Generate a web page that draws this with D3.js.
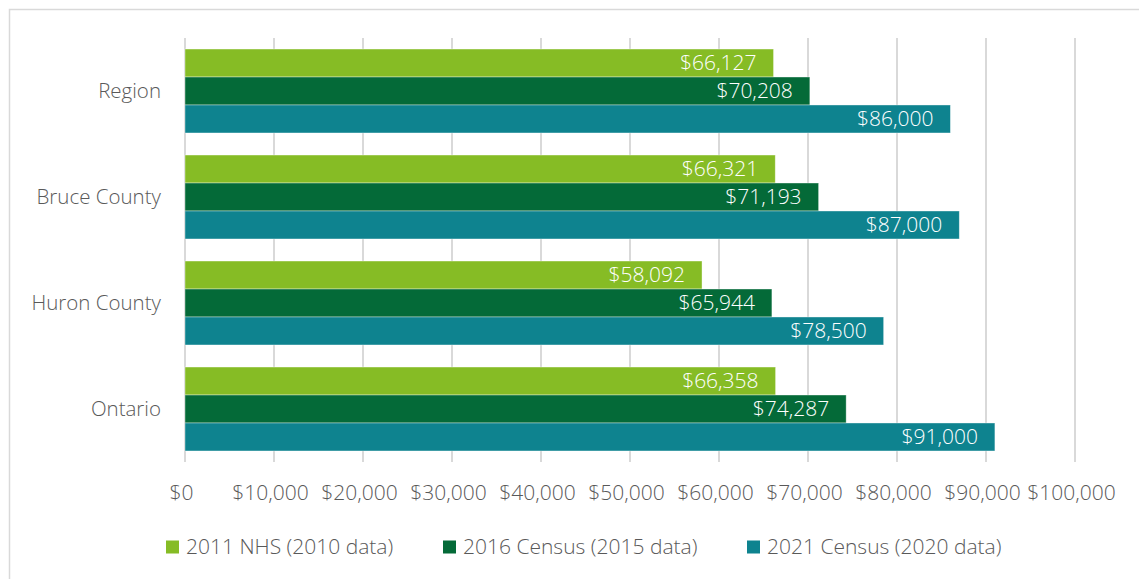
<!DOCTYPE html>
<html>
<head>
<meta charset="utf-8">
<script src="https://cdn.jsdelivr.net/npm/d3@7"></script>
<style>
  body { margin: 0; background: #fff; }
  text { font-family: "Open Sans", sans-serif; font-weight: 300; }
</style>
</head>
<body>
<script>
// data
const categories = ["Region", "Bruce County", "Huron County", "Ontario"]
const seriesNames = ["2011 NHS (2010 data)", "2016 Census (2015 data)", "2021 Census (2020 data)"]
const nhs2011 = [66127, 66321, 58092, 66358]
const census2016 = [70208, 71193, 65944, 74287]
const census2021 = [86000, 87000, 78500, 91000]
const xTicks = [0, 10000, 20000, 30000, 40000, 50000, 60000, 70000, 80000, 90000, 100000]

const colors = ["#86BC25", "#046A38", "#0E838F"]
const allSeries = [nhs2011, census2016, census2021]

const width = 1139, height = 579
const plot = {left: 185, right: 1075, top: 38, bottom: 462}
const fontSize = "21px"

const svg = d3.select("body").append("svg")
    .attr("width", width)
    .attr("height", height)

// chart border
svg.append("rect")
    .attr("x", 9.5).attr("y", 9.5)
    .attr("width", width + 20).attr("height", height + 20)
    .attr("fill", "none")
    .attr("stroke", "#d9d9d9")
    .attr("stroke-width", 1.5)

const x = d3.scaleLinear().domain([0, 100000]).range([plot.left, plot.right])
const y = d3.scaleBand().domain(categories).range([plot.top, plot.bottom]).paddingInner(0.208).paddingOuter(0.104)
const y1 = d3.scaleBand().domain(d3.range(3)).range([0, y.bandwidth()])

// gridlines
svg.append("g").selectAll("line")
    .data(xTicks)
    .join("line")
    .attr("x1", d => x(d)).attr("x2", d => x(d))
    .attr("y1", plot.top).attr("y2", plot.bottom)
    .attr("stroke", "#d9d9d9")
    .attr("stroke-width", 2)

const money = d => "$" + d3.format(",")(d)

// bars
const groups = svg.append("g").selectAll("g")
    .data(categories)
    .join("g")
    .attr("transform", d => `translate(0,${y(d)})`)

groups.selectAll("rect")
    .data((c, i) => allSeries.map((s, k) => ({k: k, v: s[i]})))
    .join("rect")
    .attr("x", x(0))
    .attr("y", d => y1(d.k))
    .attr("width", d => x(d.v) - x(0))
    .attr("height", y1.bandwidth())
    .attr("fill", d => colors[d.k])
    .attr("stroke", "#fff")
    .attr("stroke-opacity", 0.5)
    .attr("stroke-width", 0.75)

groups.selectAll("text")
    .data((c, i) => allSeries.map((s, k) => ({k: k, v: s[i]})))
    .join("text")
    .attr("x", d => x(d.v) - 17)
    .attr("y", d => y1(d.k) + y1.bandwidth() / 2)
    .attr("dy", "0.35em")
    .attr("text-anchor", "end")
    .attr("fill", "#fff")
    .style("font-size", fontSize)
    .text(d => money(d.v))

// category labels
svg.append("g").selectAll("text")
    .data(categories)
    .join("text")
    .attr("x", 161)
    .attr("y", d => y(d) + y.bandwidth() / 2)
    .attr("dy", "0.35em")
    .attr("text-anchor", "end")
    .attr("fill", "#595959")
    .style("font-size", "20.5px")
    .text(d => d)

// x axis labels
const xAxis = d3.axisBottom(x).tickValues(xTicks).tickFormat(money).tickSize(0).tickPadding(0)
const ax = svg.append("g")
    .attr("transform", `translate(-4,${493})`)
    .call(xAxis)
ax.select(".domain").remove()
ax.selectAll("text")
    .attr("dy", "0.35em")
    .attr("fill", "#595959")
    .style("font-size", fontSize)
    .style("font-family", "'Open Sans', sans-serif")
    .style("font-weight", 300)

// legend
const legendX = [166, 443, 747]
const legend = svg.append("g").selectAll("g")
    .data(seriesNames)
    .join("g")
    .attr("transform", (d, i) => `translate(${legendX[i]},547)`)
legend.append("rect")
    .attr("x", 0).attr("y", -6.5)
    .attr("width", 13).attr("height", 13)
    .attr("fill", (d, i) => colors[i])
legend.append("text")
    .attr("x", 20)
    .attr("dy", "0.35em")
    .attr("fill", "#595959")
    .style("font-size", fontSize)
    .text(d => d)
</script>
</body>
</html>
